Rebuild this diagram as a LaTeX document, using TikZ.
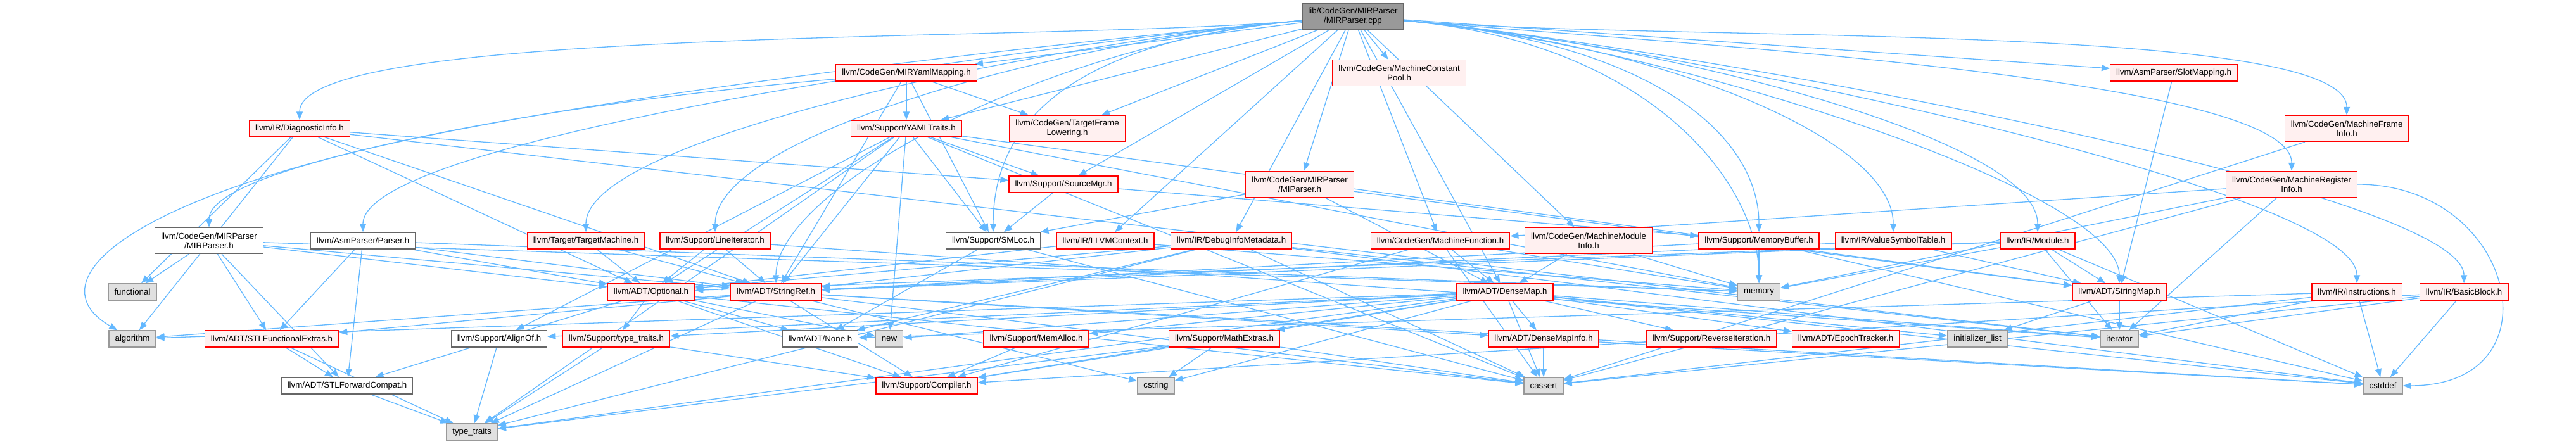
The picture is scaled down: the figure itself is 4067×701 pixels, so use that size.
\documentclass[tikz,border=0pt]{standalone}
\usepackage{fontspec}
\setmainfont{Liberation Sans}
\usetikzlibrary{arrows.meta,backgrounds}
\definecolor{deplink}{HTML}{63B8FF}
\definecolor{hdrpink}{HTML}{FFF0F0}
\definecolor{sysfill}{HTML}{E0E0E0}
\definecolor{sysgray}{HTML}{999999}
\definecolor{donegray}{HTML}{666666}
\definecolor{srcgray}{HTML}{999999}
% one pixel of the graph is 0.05pt
\tikzset{
  hdr/.style={rectangle, line width=0.07pt, inner xsep=0.475pt, inner ysep=0.1pt,
    minimum height=1.3pt, align=center, font=\fontsize{0.665pt}{0.75pt}\selectfont},
  tall/.style={minimum height=2.05pt},
  redhdr/.style={hdr, draw=red, fill=hdrpink},
  syshdr/.style={hdr, draw=sysgray, fill=sysfill},
  donehdr/.style={hdr, draw=donegray, fill=white},
  srchdr/.style={hdr, draw=donegray, fill=srcgray},
  dep/.style={draw=deplink, line width=0.065pt, -{Triangle[length=0.65pt,width=0.5pt]}},
  toleft/.style={out=185, in=90, out distance=20pt, in distance=7.5pt},
  toright/.style={out=-5, in=90, out distance=20pt, in distance=7.5pt},
}
\begin{document}
\begin{tikzpicture}[x=0.05pt,y=-0.05pt]
\useasboundingbox (0,0) rectangle (4067,701);
% rank 0
\node[srchdr, tall] (root) at (2136,25.5) {lib/CodeGen/MIRParser\\/MIRParser.cpp};
% rank 1
\node[redhdr] (yamlmap) at (1431,115) {llvm/CodeGen/MIRYamlMapping.h};
\node[redhdr, tall] (constpool) at (2209,115) {llvm/CodeGen/MachineConstant\\Pool.h};
\node[redhdr] (slotmap) at (3432,115) {llvm/AsmParser/SlotMapping.h};
% rank 2
\node[redhdr] (diaginfo) at (473,203) {llvm/IR/DiagnosticInfo.h};
\node[redhdr] (yamltraits) at (1431,203) {llvm/Support/YAMLTraits.h};
\node[redhdr, tall] (framelow) at (1685,203) {llvm/CodeGen/TargetFrame\\Lowering.h};
\node[redhdr, tall] (frameinfo) at (3705,203) {llvm/CodeGen/MachineFrame\\Info.h};
% rank 3
\node[redhdr] (srcmgr) at (1679,291) {llvm/Support/SourceMgr.h};
\node[redhdr, tall] (miparser) at (2052,291) {llvm/CodeGen/MIRParser\\/MIParser.h};
\node[redhdr, tall] (reginfo) at (3618,291) {llvm/CodeGen/MachineRegister\\Info.h};
% rank 4
\node[donehdr, tall] (mirparser) at (330,380) {llvm/CodeGen/MIRParser\\/MIRParser.h};
\node[donehdr] (asmparser) at (573,380) {llvm/AsmParser/Parser.h};
\node[redhdr] (tmachine) at (925,380) {llvm/Target/TargetMachine.h};
\node[redhdr] (lineiter) at (1129,380) {llvm/Support/LineIterator.h};
\node[donehdr] (smloc) at (1568,380) {llvm/Support/SMLoc.h};
\node[redhdr] (context) at (1745,380) {llvm/IR/LLVMContext.h};
\node[redhdr] (dimeta) at (1944,380) {llvm/IR/DebugInfoMetadata.h};
\node[redhdr] (mfunc) at (2274,380) {llvm/CodeGen/MachineFunction.h};
\node[redhdr, tall] (mmodinfo) at (2508,380) {llvm/CodeGen/MachineModule\\Info.h};
\node[redhdr] (membuf) at (2777,380) {llvm/Support/MemoryBuffer.h};
\node[redhdr] (symtab) at (2989,380) {llvm/IR/ValueSymbolTable.h};
\node[redhdr] (module) at (3217,380) {llvm/IR/Module.h};
% rank 5
\node[syshdr] (functional) at (209,461) {functional};
\node[redhdr] (optional) at (1028,461) {llvm/ADT/Optional.h};
\node[redhdr] (stringref) at (1225,461) {llvm/ADT/StringRef.h};
\node[redhdr] (densemap) at (2376,461) {llvm/ADT/DenseMap.h};
\node[syshdr] (memory) at (2777,461) {memory};
\node[redhdr] (stringmap) at (3346,461) {llvm/ADT/StringMap.h};
\node[redhdr] (instrs) at (3721,461) {llvm/IR/Instructions.h};
\node[redhdr] (bblock) at (3890,461) {llvm/IR/BasicBlock.h};
% rank 6
\node[syshdr] (algorithm) at (209,535) {algorithm};
\node[redhdr] (stlfunc) at (429,535) {llvm/ADT/STLFunctionalExtras.h};
\node[donehdr] (alignof) at (788,535) {llvm/Support/AlignOf.h};
\node[redhdr] (lltraits) at (973,535) {llvm/Support/type\_traits.h};
\node[donehdr] (none) at (1295,535) {llvm/ADT/None.h};
\node[syshdr] (new) at (1404,535) {new};
\node[redhdr] (memalloc) at (1636,535) {llvm/Support/MemAlloc.h};
\node[redhdr] (mathext) at (1933,535) {llvm/Support/MathExtras.h};
\node[redhdr] (dmapinfo) at (2437,535) {llvm/ADT/DenseMapInfo.h};
\node[redhdr] (reviter) at (2702,535) {llvm/Support/ReverseIteration.h};
\node[redhdr] (epoch) at (2914,535) {llvm/ADT/EpochTracker.h};
\node[syshdr] (initlist) at (3122,535) {initializer\_list};
\node[syshdr] (iterator) at (3346,535) {iterator};
% rank 7
\node[donehdr] (stlfwd) at (548,609) {llvm/ADT/STLForwardCompat.h};
\node[redhdr] (compiler) at (1463,609) {llvm/Support/Compiler.h};
\node[syshdr] (cstring) at (1825,609) {cstring};
\node[syshdr] (cassert) at (2437,609) {cassert};
\node[syshdr] (cstddef) at (3762,609) {cstddef};
% rank 8
\node[syshdr] (stdtraits) at (745,682) {type\_traits};
% includes
\begin{scope}[on background layer, every edge/.style={dep}]
\path (root) edge[toleft] (mirparser) edge[toleft] (diaginfo) edge[toleft] (asmparser)
  edge[toleft] (tmachine) edge[toleft] (lineiter) edge (yamlmap)
  edge (yamltraits) edge[toleft] (stringref) edge[toleft] (smloc)
  edge (srcmgr) edge (framelow) edge (context) edge (dimeta) edge (miparser)
  edge (constpool) edge (mfunc) edge (densemap) edge (mmodinfo) edge[toright] (membuf)
  edge[toright] (memory) edge[toright] (symtab) edge[toright] (module)
  edge[toright] (stringmap) edge (slotmap) edge[toright] (reginfo)
  edge[toright] (frameinfo) edge[toright] (instrs) edge[toright] (bblock);
\path (yamlmap) edge[out=185, in=150, out distance=50pt, in distance=10pt] (algorithm)
  edge (stringref) edge (framelow) edge (smloc) edge (yamltraits);
\path (diaginfo) edge (optional) edge (stringref) edge (srcmgr) edge (algorithm)
  edge (functional) edge (iterator);
\path (yamltraits) edge (optional) edge (stringmap) edge (stringref) edge (alignof)
  edge (smloc) edge (srcmgr) edge (cassert) edge (memory) edge (new) edge (stdtraits);
\path (frameinfo) edge (cassert);
\path (srcmgr) edge (smloc) edge (membuf);
\path (miparser) edge (densemap) edge (stringmap) edge (smloc);
\path (reginfo) edge (mfunc) edge (cassert)
  edge[out=0, in=0, out distance=12.5pt, in distance=12.5pt] (cstddef)
  edge (iterator) edge (memory);
\path (slotmap) edge (stringmap);
\path (mirparser) edge (functional) edge (stlfunc) edge (stlfwd) edge (optional)
  edge (stringref) edge (memory);
\path (asmparser) edge (stlfunc) edge (stlfwd) edge (optional) edge (stringref) edge (memory);
\path (tmachine) edge (optional) edge (stringref);
\path (lineiter) edge (optional) edge (stringref) edge (iterator);
\path (smloc) edge (none) edge (cassert);
\path (context) edge (optional) edge (memory);
\path (dimeta) edge (none) edge (optional) edge (stringref) edge (cassert) edge (cstddef)
  edge (iterator) edge (stdtraits);
\path (mfunc) edge (densemap) edge (compiler) edge (cassert) edge (memory);
\path (mmodinfo) edge (densemap) edge (memory);
\path (membuf) edge (stringref) edge (cstddef) edge (memory);
\path (symtab) edge (stringmap) edge (stringref);
\path (module) edge (optional) edge (stringmap) edge (stringref) edge (cstddef)
  edge (iterator) edge (memory);
\path (optional) edge (none) edge (stlfwd) edge (compiler) edge (lltraits) edge (cassert) edge (new);
\path (stringref) edge (dmapinfo) edge (stlfunc) edge (compiler) edge (algorithm)
  edge (cassert) edge (cstddef) edge (cstring) edge (stdtraits);
\path (densemap) edge (dmapinfo) edge (epoch) edge (alignof) edge (compiler) edge (mathext)
  edge (memalloc) edge (reviter) edge (lltraits) edge (algorithm) edge (cassert)
  edge (cstddef) edge (cstring) edge (initlist) edge (iterator) edge (new) edge (stdtraits);
\path (stringmap) edge (initlist) edge (iterator);
\path (instrs) edge (none) edge (iterator) edge (cassert) edge (cstddef);
\path (bblock) edge (compiler) edge (cassert) edge (cstddef) edge (iterator);
\path (stlfunc) edge (stlfwd) edge (stdtraits);
\path (alignof) edge (stdtraits);
\path (lltraits) edge (compiler) edge (stdtraits);
\path (memalloc) edge (compiler);
\path (mathext) edge (compiler) edge (cassert) edge (cstring) edge (stdtraits);
\path (dmapinfo) edge (cassert) edge (cstddef);
\path (stlfwd) edge (stdtraits);
\end{scope}
\end{tikzpicture}
\end{document}
